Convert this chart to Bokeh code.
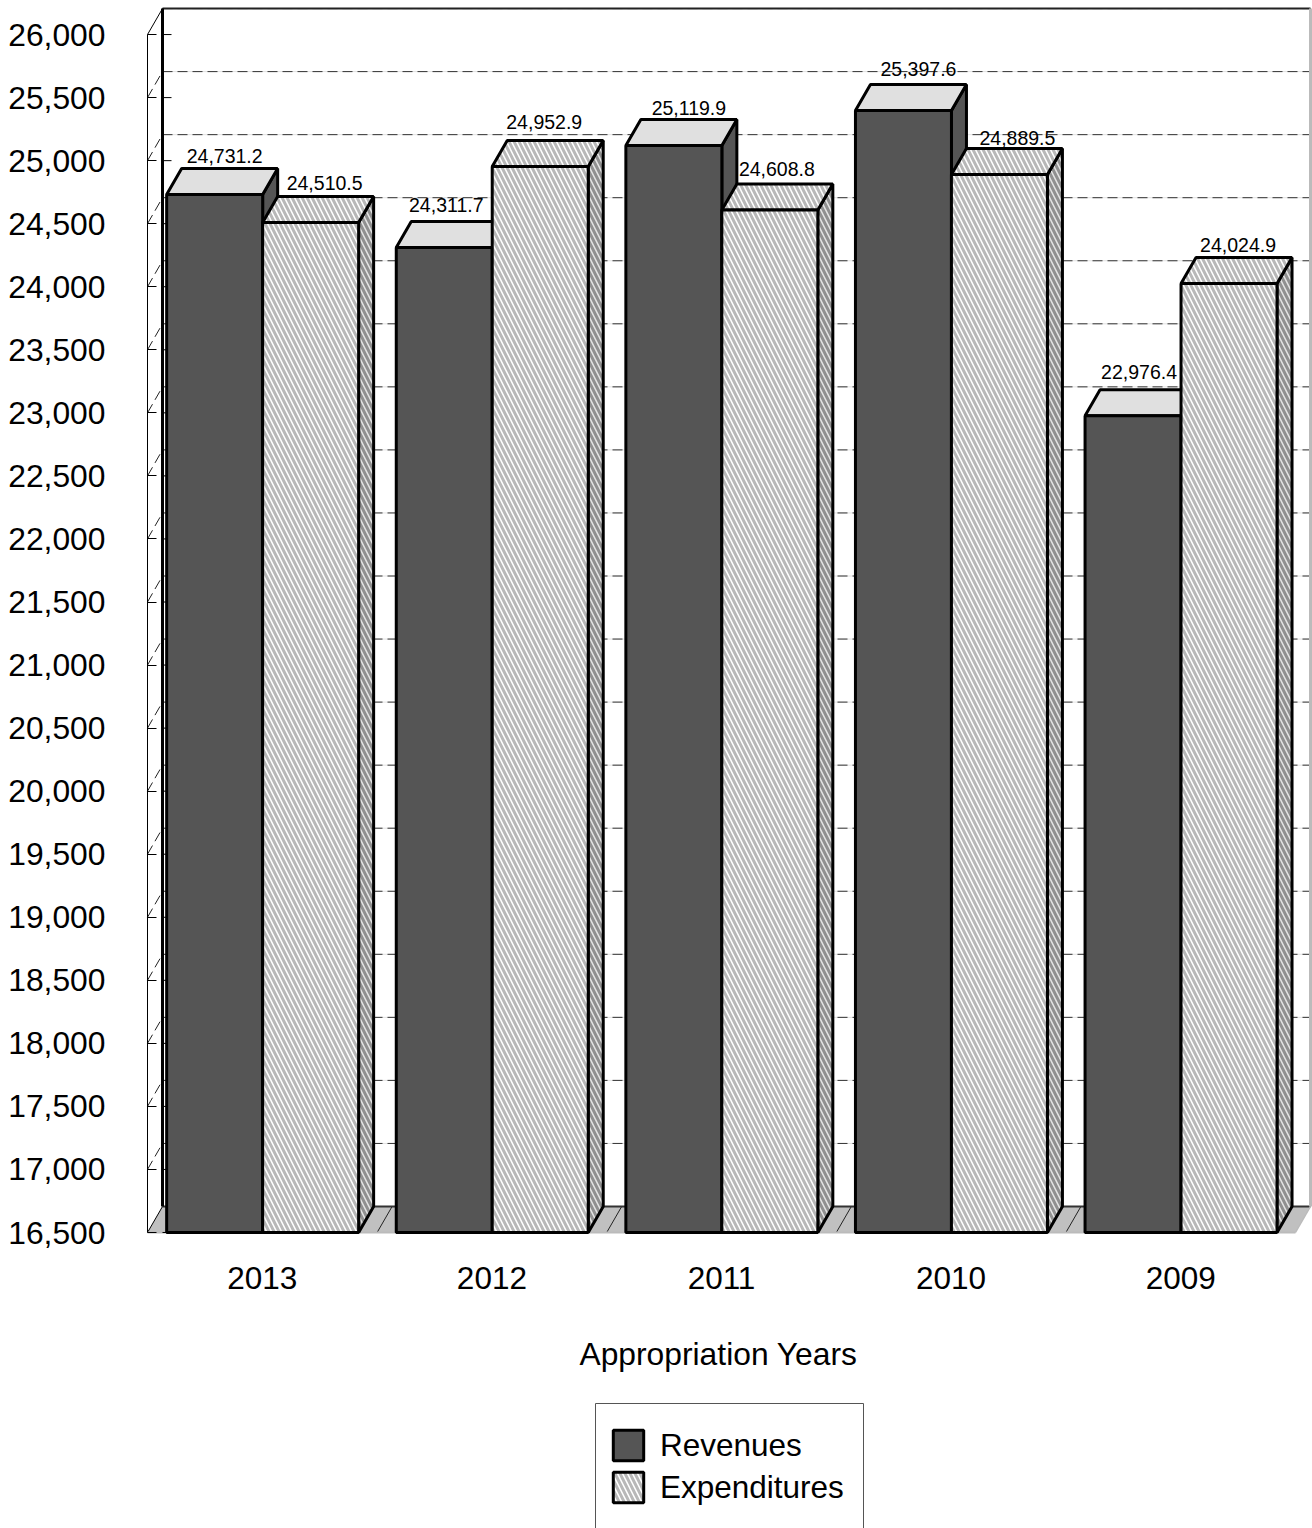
from bokeh.plotting import figure
from bokeh.models import (LinearAxis, FixedTicker, NumeralTickFormatter, Legend, LegendItem)
from bokeh.core.properties import value
from bokeh.embed import file_html
from bokeh.resources import INLINE

years = ["2013", "2012", "2011", "2010", "2009"]
revenues = [24731.2, 24311.7, 25119.9, 25397.6, 22976.4]
expenditures = [24510.5, 24952.9, 24608.8, 24889.5, 24024.9]
y_ticks = list(range(16500, 26001, 500))

FONT = "Liberation Sans"
PX_X = 229.6      # pixels per category
PX_Y = 0.1261     # pixels per value unit
BASE = 16500
DX = 15 / PX_X    # depth of the 3D projection
DY = 26 / PX_Y
BW = 96 / PX_X    # bar width
def X(px): return (px - 147) / PX_X
def Y(py): return BASE + (1232 - py) / PX_Y

p = figure(width=1312, height=1528, output_backend="svg", toolbar_location=None,
           x_range=(X(0), X(1312)), y_range=(Y(1528), Y(0)),
           x_axis_type=None, y_axis_type=None, min_border=0, outline_line_color=None)
p.grid.visible = False

top_back = y_ticks[-1] + DY

# floor
p.patch([0, DX, 5 + DX, 5], [BASE, BASE + DY, BASE + DY, BASE], fill_color="#c0c0c0", line_color=None)
p.segment([k for k in range(1, 5)], [BASE] * 4, [k + DX for k in range(1, 5)], [BASE + DY] * 4,
          line_color="#222222", line_width=1)
p.segment([0], [BASE], [DX], [BASE + DY], line_color="black", line_width=1)
p.segment([DX], [BASE + DY], [5 + DX], [BASE + DY], line_color="#333333", line_width=2)
p.segment([0], [BASE], [5], [BASE], line_color="#bbbbbb", line_width=2)
p.segment([5], [BASE], [5 + DX], [BASE + DY], line_color="#bbbbbb", line_width=1.5)

# back wall gridlines
grid_v = [v + DY for v in y_ticks[1:]]
p.segment([DX] * len(grid_v), grid_v, [5 + DX] * len(grid_v), grid_v, line_color="#e2e2e2", line_width=1)
p.segment([DX] * len(grid_v), grid_v, [5 + DX] * len(grid_v), grid_v, line_color="#333333",
          line_width=1, line_dash="10 5")
p.segment([DX], [top_back], [5 + DX], [top_back], line_color="#222222", line_width=2)

# side wall
p.segment([0] * (len(y_ticks) - 2), y_ticks[1:-1], [DX] * (len(y_ticks) - 2),
          [v + DY for v in y_ticks[1:-1]], line_color="#222222", line_width=1, line_dash="10 5")
p.segment([0], [y_ticks[-1]], [DX], [top_back], line_color="black", line_width=1)
p.segment([DX], [BASE + DY], [DX], [top_back], line_color="black", line_width=3)
p.segment([5 + DX], [BASE + DY], [5 + DX], [top_back], line_color="#bbbbbb", line_width=3)
p.segment([DX] * len(y_ticks), y_ticks, [DX + 9 / PX_X] * len(y_ticks), y_ticks, line_color="black", line_width=1)

def draw(vals, off, front, top, side, hatch):
    cx = [k + 0.5 + off for k in range(5)]
    hk = dict(hatch_pattern="left_diagonal_line", hatch_color="#b8b8b8", hatch_weight=3, hatch_scale=10) if hatch else {}
    hs = dict(hatch_pattern="left_diagonal_line", hatch_color="#909090", hatch_weight=3, hatch_scale=10) if hatch else {}
    side_xs = [[c + BW / 2, c + BW / 2 + DX, c + BW / 2 + DX, c + BW / 2] for c in cx]
    side_ys = [[v, v + DY, BASE + DY, BASE] for v in vals]
    top_xs = [[c - BW / 2, c - BW / 2 + DX, c + BW / 2 + DX, c + BW / 2] for c in cx]
    top_ys = [[v, v + DY, v + DY, v] for v in vals]
    p.patches(side_xs, side_ys, fill_color=side, line_color="black", line_width=3, **hs)
    p.patches(top_xs, top_ys, fill_color=top, line_color="black", line_width=3, **hk)
    return p.vbar(x=cx, width=BW, bottom=BASE, top=vals, fill_color=front, line_color="black", line_width=3, **hk)

r1 = draw(revenues, -0.2075, "#555555", "#e0e0e0", "#555555", False)
r2 = draw(expenditures, 0.2105, "white", "white", "#e4e4e4", True)

# value labels, with the small pixel nudges the original renderer applied to each
rev_nudge = [(10, 13), (2, 16), (15, 12), (15, 16), (6, 18)]
exp_nudge = [(14, 13), (4, 19), (7, 15), (18, 11), (9, 13)]
for off, vals, nudge in ((-0.2075, revenues, rev_nudge), (0.2105, expenditures, exp_nudge)):
    p.text([k + 0.5 + off for k in range(5)], [v + DY for v in vals],
           text=[f"{v:,.1f}" for v in vals], text_align="center", text_baseline="middle",
           x_offset=[n[0] for n in nudge], y_offset=[-n[1] for n in nudge],
           text_font=value(FONT), text_font_size="19.5px", text_color="black")

# axes
yax = LinearAxis(ticker=FixedTicker(ticks=y_ticks), formatter=NumeralTickFormatter(format="0,0"),
                 fixed_location=0, bounds=(y_ticks[0], y_ticks[-1]), major_tick_in=9, major_tick_out=0,
                 minor_tick_line_color=None, major_label_standoff=42, axis_line_color="black",
                 major_tick_line_color="black", major_label_text_font=FONT,
                 major_label_text_font_size="31.8px", major_label_text_color="black")
p.add_layout(yax, "left")
xax = LinearAxis(ticker=FixedTicker(ticks=[k + 0.5 for k in range(5)]),
                 major_label_overrides={k + 0.5: y for k, y in enumerate(years)},
                 fixed_location=BASE, major_tick_line_color=None, minor_tick_line_color=None,
                 axis_line_color=None, major_label_standoff=28, major_label_text_font=FONT,
                 major_label_text_font_size="31.5px", major_label_text_color="black",
                 axis_label="Appropriation Years", axis_label_text_font=FONT,
                 axis_label_text_font_style="normal", axis_label_text_font_size="31.8px",
                 axis_label_standoff=44, axis_label_text_color="black", bounds=(-0.015, 4.985))
p.add_layout(xax, "below")

# legend
p.quad(left=[X(595)], right=[X(863)], top=[Y(1403)], bottom=[Y(1540)], fill_color="white", line_color="#555555", line_width=1)
legend = Legend(items=[LegendItem(label="Revenues", renderers=[r1]), LegendItem(label="Expenditures", renderers=[r2])],
                location=(609, 22), orientation="vertical", background_fill_alpha=0, border_line_color=None,
                glyph_width=38, glyph_height=38, label_standoff=13, spacing=4, padding=8, margin=0,
                label_text_font=FONT, label_text_font_size="31.5px", label_text_color="black")
p.add_layout(legend, "center")

open("out.html", "w").write(file_html(p, INLINE))
